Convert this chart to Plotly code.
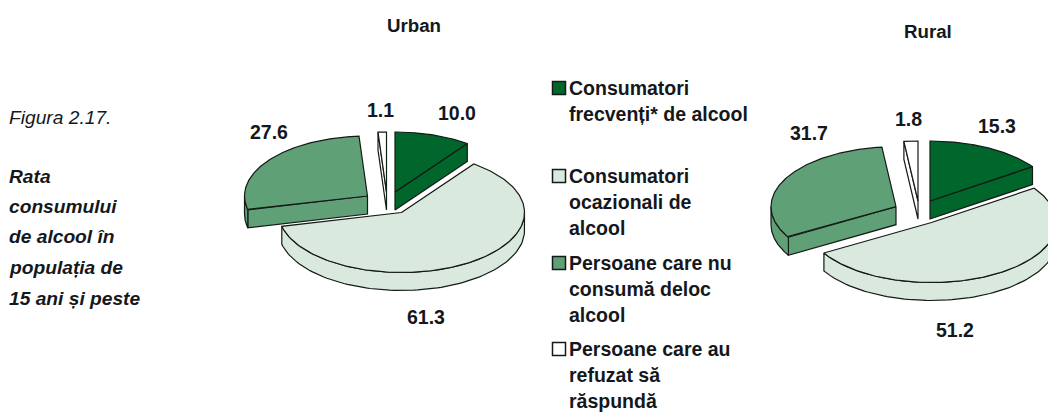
import numpy as np
import plotly.graph_objects as go

categories = ["Consumatori frecvenți* de alcool", "Consumatori ocazionali de alcool",
              "Persoane care nu consumă deloc alcool", "Persoane care au refuzat să răspundă"]
urban_values = [10.0, 61.3, 27.6, 1.1]
rural_values = [15.3, 51.2, 31.7, 1.8]
colors = ["#00662b", "#d9e9de", "#5fa077", "#ffffff"]
LINE = "#141a16"
TEXT = "#14181c"
FONT = "Liberation Sans"
DRAW_ORDER = [1, 0, 3, 2]
DEPTH = 18

urban_geo = dict(rx=123, ry=60, apex=[(395, 192), (401.5, 212.5), (367.5, 196), (386.5, 192)])
rural_geo = dict(rx=125, ry=60, apex=[(930, 201), (931.5, 222.5), (896, 206.7), (918, 201)])
urban_label_pos = [(457, 113), (426, 317), (269, 132), (380, 110)]
rural_label_pos = [(997, 126), (955, 330), (809, 133), (908, 119)]

legend_lines = [["Consumatori", "frecvenți* de alcool"],
                ["Consumatori", "ocazionali de", "alcool"],
                ["Persoane care nu", "consumă deloc", "alcool"],
                ["Persoane care au", "refuzat să", "răspundă"]]
legend_y = [88, 176, 263, 349]
side_lines = [("Figura 2.17.", 117, "normal"), ("Rata", 176, "bold"), ("consumului", 206, "bold"),
              ("de alcool în", 236, "bold"), ("populația de", 267, "bold"), ("15 ani și peste", 298, "bold")]

fig = go.Figure()


def rim(t, apex, rx, ry):
    t = np.radians(t)
    return apex[0] + rx * np.sin(t), apex[1] - ry * np.cos(t)


def poly(xs, ys, color):
    fig.add_trace(go.Scatter(x=list(xs) + [xs[0]], y=list(ys) + [ys[0]], mode="lines", fill="toself",
                             fillcolor=color, line=dict(color=LINE, width=1.2), hoverinfo="skip", showlegend=False))


def edge_forward(a, inside, apex, rx, ry):
    qx, qy = rim(a, apex, rx, ry)
    mx, my = rim(inside, apex, rx, ry)
    dx, dy = qx - apex[0], qy - apex[1]
    side_down = dx * 1.0
    side_in = dx * (my - apex[1]) - dy * (mx - apex[0])
    return side_down * side_in < -1e-6


def draw_pie(values, geo):
    total = sum(values)
    bounds = np.concatenate([[0], np.cumsum(values) / total * 360])
    rx, ry = geo["rx"], geo["ry"]
    for i in DRAW_ORDER:
        a0, a1 = bounds[i], bounds[i + 1]
        apex, color = geo["apex"][i], colors[i]
        for a, inside in ((a0, a0 + 1), (a1, a1 - 1)):
            if edge_forward(a, inside, apex, rx, ry):
                qx, qy = rim(a, apex, rx, ry)
                poly([apex[0], qx, qx, apex[0]], [apex[1], qy, qy + DEPTH, apex[1] + DEPTH], color)
        f0, f1 = max(a0, 90), min(a1, 270)
        if f1 > f0:
            x, y = rim(np.linspace(f0, f1, 90), apex, rx, ry)
            poly(np.r_[x, x[::-1]], np.r_[y, y[::-1] + DEPTH], color)
        x, y = rim(np.linspace(a0, a1, 180), apex, rx, ry)
        poly(np.r_[apex[0], x], np.r_[apex[1], y], color)


draw_pie(urban_values, urban_geo)
draw_pie(rural_values, rural_geo)


def note(x, y, text, anchor="center", size=18, weight="bold", style="normal"):
    fig.add_annotation(x=x, y=y, text=text, showarrow=False, xanchor=anchor, yanchor="middle",
                       font=dict(family=FONT, size=size, color=TEXT, weight=weight, style=style))


for vals, pos in ((urban_values, urban_label_pos), (rural_values, rural_label_pos)):
    for v, (x, y) in zip(vals, pos):
        note(x, y, f"{v:.1f}", size=19.5)
note(414, 25, "Urban", size=18.7)
note(928, 31, "Rural", size=18.7)

for i, (lines, y0) in enumerate(zip(legend_lines, legend_y)):
    fig.add_trace(go.Scatter(x=[559], y=[y0], mode="markers", hoverinfo="skip", showlegend=False,
                             marker=dict(symbol="square", size=13, color=colors[i], line=dict(color=LINE, width=1.5))))
    for j, line in enumerate(lines):
        note(567, y0 + j * 26, line, anchor="left", size=19.5)

for text, y, weight in side_lines:
    note(7, y, text, anchor="left", size=19.2, weight=weight, style="italic")

fig.update_layout(width=1048, height=412, margin=dict(l=0, r=0, t=0, b=0), paper_bgcolor="white",
                  plot_bgcolor="white", showlegend=False,
                  xaxis=dict(range=[0, 1048], visible=False, fixedrange=True),
                  yaxis=dict(range=[412, 0], visible=False, fixedrange=True))
fig.write_html("out.html", config=dict(displayModeBar=False),
               post_script="document.body.style.margin='0';document.body.style.overflow='hidden';")
